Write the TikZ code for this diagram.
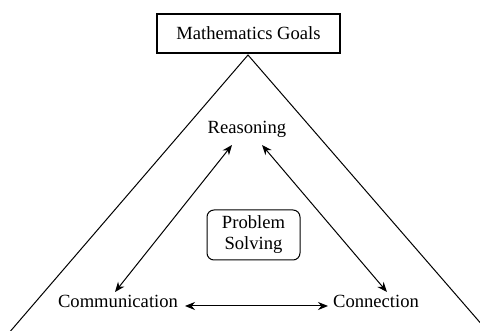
\documentclass[tikz,border=0pt]{standalone}
\usepackage{fontspec}
\setmainfont{Liberation Serif}
\usetikzlibrary{arrows.meta}
\begin{document}
\begin{tikzpicture}[x=1pt,y=-1pt,
  every node/.style={font=\fontsize{18.6}{21}\selectfont, inner sep=0pt},
  goalbox/.style={draw, line width=1.1pt, minimum width=183pt, minimum height=39pt},
  psbox/.style={draw, line width=1pt, rounded corners=7pt, minimum width=93pt, minimum height=50pt, align=center},
  edge/.style={line width=1pt},
  arr/.style={line width=1pt, {Stealth[length=10pt,width=8pt]}-{Stealth[length=10pt,width=8pt]}}]
\useasboundingbox (0,0) rectangle (480,331);
\fill[white] (0,0) rectangle (480,331);
\node[goalbox] (goals) at (248.5,33.5) {Mathematics Goals};
\node (reas) at (247,129) {Reasoning};
\node (comm) at (118,301) {Communication};
\node (conn) at (376,301) {Connection};
\node[psbox] (ps) at (253.5,235) {Problem\\Solving};
\coordinate (apex) at (248,55);
\coordinate (bl) at (8,334);
\coordinate (br) at (490,334);
\draw[edge] (bl) -- (apex) -- (br);
\coordinate (r1) at (232,145);
\coordinate (r2) at (262,145);
\coordinate (c1) at (115,292);
\coordinate (n1) at (387,292);
\coordinate (c2) at (185,306);
\coordinate (n2) at (328,306);
\draw[arr] (c1) -- (r1);
\draw[arr] (r2) -- (n1);
\draw[arr] (c2) -- (n2);
\end{tikzpicture}
\end{document}
